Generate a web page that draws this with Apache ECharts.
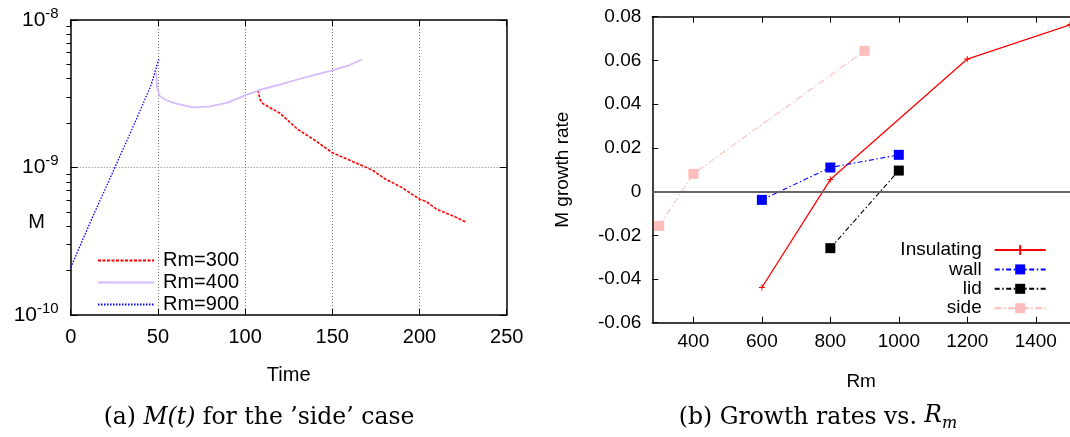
<!DOCTYPE html>
<html>
<head>
<meta charset="utf-8">
<script src="https://cdn.jsdelivr.net/npm/echarts@6/dist/echarts.min.js"></script>
<style>
  html, body { margin: 0; padding: 0; background: #fff; }
  #chart { width: 1070px; height: 437px; }
</style>
</head>
<body>
<div id="chart"></div>
<script>
// (a) M(t) for the 'side' case
const timeRm300 = [107.4, 108.5, 110, 120, 130, 140, 150, 160, 173, 180, 190, 200, 204, 210, 220, 227]
const mRm300 = [3.35e-9, 2.9e-9, 2.72e-9, 2.33e-9, 1.82e-9, 1.53e-9, 1.26e-9, 1.12e-9, 9.6e-10, 8.4e-10, 7.3e-10, 6.1e-10, 5.86e-10, 5.2e-10, 4.65e-10, 4.25e-10]
const timeRm400 = [49, 49.5, 51, 55, 60, 70, 80, 90, 100, 110, 120, 130, 140, 150, 160, 167]
const mRm400 = [4.4e-9, 3.5e-9, 3.05e-9, 2.85e-9, 2.72e-9, 2.56e-9, 2.6e-9, 2.75e-9, 3.08e-9, 3.4e-9, 3.65e-9, 3.95e-9, 4.25e-9, 4.55e-9, 4.95e-9, 5.4e-9]
const timeRm900 = [0, 12.5, 25, 37.5, 46, 50.5]
const mRm900 = [2.1e-10, 4.6e-10, 9.8e-10, 2.1e-9, 3.6e-9, 5.4e-9]
const timeTicks = [0, 50, 100, 150, 200, 250]
const mMinorTicks = [2e-10, 3e-10, 4e-10, 5e-10, 6e-10, 7e-10, 8e-10, 9e-10, 2e-9, 3e-9, 4e-9, 5e-9, 6e-9, 7e-9, 8e-9, 9e-9]

// (b) Growth rates vs. Rm
const rmInsulating = [600, 800, 1200, 1500]
const rateInsulating = [-0.0439, 0.0055, 0.0606, 0.0763]
const rmWall = [600, 800, 1000]
const rateWall = [-0.0038, 0.011, 0.0168]
const rmLid = [800, 1000]
const rateLid = [-0.0259, 0.0096]
const rmSide = [300, 400, 900]
const rateSide = [-0.0157, 0.0081, 0.0644]
const rmTicks = [400, 600, 800, 1000, 1200, 1400]

const pair = (xs, ys) => xs.map((x, i) => [x, ys[i]])
const sans = 'Liberation Sans'
const serif = 'DejaVu Serif'

const chart = echarts.init(document.getElementById('chart'), null, { renderer: 'canvas' })

const border = { show: true, onZero: false, lineStyle: { color: '#000', width: 1.5 } }
const tickIn = (len) => ({ show: true, inside: true, length: len, lineStyle: { color: '#000', width: 1 } })
const hidden = { show: false }

chart.setOption({
  animation: false,
  textStyle: { fontFamily: sans },
  grid: [
    { left: 70.7, top: 20, width: 436, height: 295 },
    { left: 652.3, top: 16.7, width: 418.7, height: 306 }
  ],
  xAxis: [
    {
      gridIndex: 0, type: 'value', min: 0, max: 250, interval: 50,
      axisLine: border, axisTick: tickIn(6),
      axisLabel: { fontSize: 20, color: '#000', margin: 12, fontFamily: sans },
      splitLine: { show: true, showMinLine: false, showMaxLine: false, lineStyle: { color: '#777', type: [1, 2], width: 1 } },
      name: 'Time', nameLocation: 'middle', nameGap: 50,
      nameTextStyle: { fontSize: 20, color: '#000', fontFamily: sans }
    },
    {
      gridIndex: 0, type: 'value', position: 'top', min: 0, max: 250, interval: 50,
      axisLine: border, axisTick: tickIn(6), axisLabel: hidden, splitLine: hidden
    },
    {
      gridIndex: 1, type: 'value', min: 280, max: 1500,
      axisLine: border,
      axisTick: Object.assign(tickIn(6), { customValues: rmTicks }),
      axisLabel: {
        customValues: rmTicks, fontSize: 19, color: '#000', margin: 10, fontFamily: sans,
        formatter: (v) => String(Math.round(v))
      },
      splitLine: hidden,
      name: 'Rm', nameLocation: 'middle', nameGap: 50,
      nameTextStyle: { fontSize: 19, color: '#000', fontFamily: sans }
    },
    {
      gridIndex: 1, type: 'value', position: 'top', min: 280, max: 1500,
      axisLine: border,
      axisTick: Object.assign(tickIn(6), { customValues: rmTicks }),
      axisLabel: hidden, splitLine: hidden
    }
  ],
  yAxis: [
    {
      gridIndex: 0, type: 'log', logBase: 10, min: 1e-10, max: 1e-8,
      axisLine: border, axisTick: tickIn(7),
      axisLabel: {
        margin: 12, color: '#000',
        formatter: (v) => '{b|10}{s|' + Math.round(Math.log10(v)) + '}',
        rich: {
          b: { fontSize: 21, lineHeight: 28, fontFamily: sans, color: '#000' },
          s: { fontSize: 15, lineHeight: 15, verticalAlign: 'top', fontFamily: sans, color: '#000' }
        }
      },
      splitLine: { show: true, showMinLine: false, showMaxLine: false, lineStyle: { color: '#777', type: [1, 2], width: 1 } }
    },
    {
      gridIndex: 0, type: 'log', logBase: 10, min: 1e-10, max: 1e-8,
      axisLine: hidden,
      axisTick: Object.assign(tickIn(4), { customValues: mMinorTicks }),
      axisLabel: hidden, splitLine: hidden
    },
    {
      gridIndex: 0, type: 'log', logBase: 10, min: 1e-10, max: 1e-8, position: 'right',
      axisLine: border, axisTick: tickIn(7), axisLabel: hidden, splitLine: hidden
    },
    {
      gridIndex: 0, type: 'log', logBase: 10, min: 1e-10, max: 1e-8, position: 'right',
      axisLine: hidden,
      axisTick: Object.assign(tickIn(4), { customValues: mMinorTicks }),
      axisLabel: hidden, splitLine: hidden
    },
    {
      gridIndex: 1, type: 'value', min: -0.06, max: 0.08, interval: 0.02,
      axisLine: border, axisTick: tickIn(6),
      axisLabel: {
        fontSize: 19, color: '#000', margin: 11, fontFamily: sans,
        formatter: (v) => (Math.abs(v) < 1e-9 ? '0' : v.toFixed(2))
      },
      splitLine: hidden,
      name: 'M growth rate', nameLocation: 'middle', nameGap: 80, nameRotate: 90,
      nameTextStyle: { fontSize: 19, color: '#000', fontFamily: sans }
    }
  ],
  legend: [
    {
      data: ['Rm=300', 'Rm=400', 'Rm=900'],
      orient: 'vertical', left: 97, top: 250.6, padding: 0,
      itemWidth: 56, itemHeight: 14, itemGap: 2,
      itemStyle: { opacity: 0 },
      textStyle: { fontSize: 20, lineHeight: 20, color: '#000', fontFamily: sans, padding: [0, 0, 0, 4] },
      selectedMode: false
    },
    {
      data: ['Insulating', 'wall', 'lid', 'side'],
      orient: 'vertical', align: 'right', right: 23.3, top: 240.5, padding: 0,
      itemWidth: 51, itemHeight: 12.5, itemGap: 0.4,
      textStyle: { fontSize: 19, lineHeight: 19, color: '#000', fontFamily: sans, padding: [0, 8, 0, 0] },
      selectedMode: false
    }
  ],
  series: [
    {
      name: 'Rm=300', type: 'line', xAxisIndex: 0, yAxisIndex: 0,
      data: pair(timeRm300, mRm300), showSymbol: false, symbol: 'none',
      lineStyle: { color: '#ff0000', width: 1.6, type: [3, 1.5] }, itemStyle: { color: '#ff0000' }
    },
    {
      name: 'Rm=400', type: 'line', xAxisIndex: 0, yAxisIndex: 0,
      data: pair(timeRm400, mRm400), showSymbol: false, symbol: 'none',
      lineStyle: { color: '#d4bcff', width: 1.8 }, itemStyle: { color: '#d4bcff' }
    },
    {
      name: 'Rm=900', type: 'line', xAxisIndex: 0, yAxisIndex: 0,
      data: pair(timeRm900, mRm900), showSymbol: false, symbol: 'none',
      lineStyle: { color: '#0000ff', width: 1.3, type: [1.5, 1.5] }, itemStyle: { color: '#0000ff' }
    },
    {
      name: 'Insulating', type: 'line', xAxisIndex: 2, yAxisIndex: 4,
      data: pair(rmInsulating, rateInsulating),
      symbol: 'path://M0,5L10,5M5,0L5,10', symbolSize: 6,
      lineStyle: { color: '#ff0000', width: 1.3 },
      itemStyle: { color: '#ff0000', borderColor: '#ff0000', borderWidth: 1 }
    },
    {
      name: 'wall', type: 'line', xAxisIndex: 2, yAxisIndex: 4,
      data: pair(rmWall, rateWall), symbol: 'rect', symbolSize: 10,
      lineStyle: { color: '#0000ff', width: 1.1, type: [5, 2.5, 1.5, 2.5] },
      itemStyle: { color: '#0000ff' },
      markLine: {
        silent: true, symbol: 'none', label: { show: false },
        lineStyle: { color: '#666', width: 2, type: 'solid' },
        data: [{ yAxis: 0 }]
      }
    },
    {
      name: 'lid', type: 'line', xAxisIndex: 2, yAxisIndex: 4,
      data: pair(rmLid, rateLid), symbol: 'rect', symbolSize: 10,
      lineStyle: { color: '#000', width: 1.1, type: [5, 2.5, 1.5, 2.5] },
      itemStyle: { color: '#000' }
    },
    {
      name: 'side', type: 'line', xAxisIndex: 2, yAxisIndex: 4,
      data: pair(rmSide, rateSide), symbol: 'rect', symbolSize: 10,
      lineStyle: { color: '#ffbcbc', width: 1.1, type: [7, 2.5, 1.5, 2.5] },
      itemStyle: { color: '#ffbcbc' }
    }
  ],
  graphic: [
    {
      type: 'text', x: 36.7, y: 222,
      style: { text: 'M', font: '20px "Liberation Sans"', fill: '#000', align: 'center', verticalAlign: 'middle' }
    },
    {
      type: 'text', x: 259, y: 418,
      style: {
        text: '(a) {i|M(t)} for the \u2019side\u2019 case',
        font: '23.5px "DejaVu Serif"', fill: '#000', align: 'center', verticalAlign: 'middle',
        rich: { i: { fontStyle: 'italic', fontFamily: serif, fontSize: 23.5 } }
      }
    },
    {
      type: 'text', x: 818, y: 418,
      style: {
        text: '(b) Growth rates vs. {i|R}{sub|m}',
        font: '23.5px "DejaVu Serif"', fill: '#000', align: 'center', verticalAlign: 'middle',
        rich: {
          i: { fontStyle: 'italic', fontFamily: serif, fontSize: 23.5, lineHeight: 27, verticalAlign: 'top' },
          sub: { fontStyle: 'italic', fontFamily: serif, fontSize: 16, lineHeight: 16, verticalAlign: 'bottom' }
        }
      }
    }
  ]
})
</script>
</body>
</html>
